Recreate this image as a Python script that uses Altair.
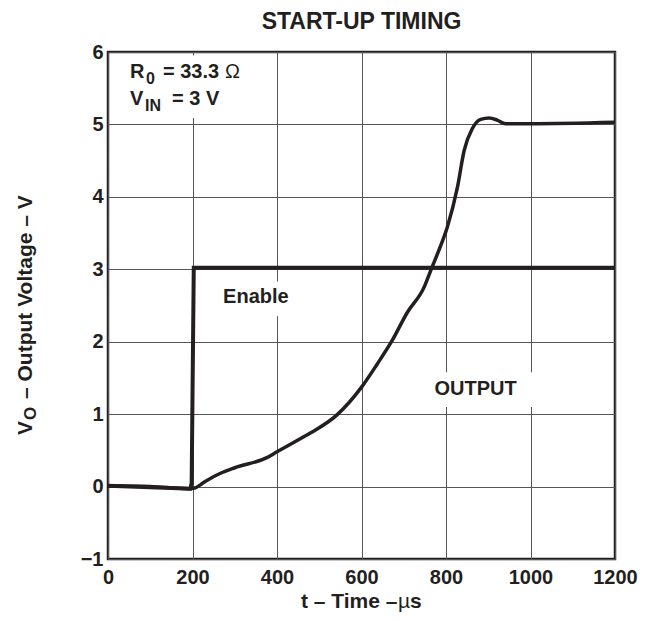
import altair as alt
import pandas as pd

# ---- data ----
out_t = [0, 100, 190, 205, 230, 265, 300, 376, 400, 455, 479, 542, 601, 637, 672,
         708, 748, 767, 783, 803, 827, 843, 862, 882, 902, 921, 941, 1000, 1200]
out_v = [0.01, 0.0, -0.03, -0.02, 0.07, 0.18, 0.26, 0.40, 0.48, 0.66, 0.74, 0.99, 1.38, 1.69, 2.01,
         2.40, 2.75, 3.03, 3.26, 3.58, 4.13, 4.64, 4.94, 5.07, 5.09, 5.06, 5.01, 5.01, 5.03]

en_t = [0, 195, 198, 203, 1200]
en_v = [0.01, -0.03, 0.05, 3.02, 3.02]

x_ticks = [0, 200, 400, 600, 800, 1000, 1200]
y_ticks = [-1, 0, 1, 2, 3, 4, 5, 6]

# label annotations (data coordinates)
label_text = ["Enable", "OUTPUT"]
label_t = [350, 870]
label_v = [2.53, 1.27]

# white boxes behind labels (data coordinates)
box_t1 = [5, 260, 750]
box_t2 = [330, 441, 1022]
box_v1 = [5.09, 2.35, 1.10]
box_v2 = [5.95, 2.83, 1.58]

# ---- chart ----
FONT = "Liberation Sans"
INK = "#231f20"
W, H = 507, 507

xs = alt.Scale(domain=[0, 1200], nice=False, zero=False)
ys = alt.Scale(domain=[-1, 6], nice=False, zero=False)

x_axis = alt.Axis(values=x_ticks, format="d", grid=True, gridColor="#555", gridWidth=1,
                  ticks=False, domain=False, labelFont=FONT, labelFontSize=20,
                  labelFontWeight="bold", labelColor=INK, labelPadding=8,
                  labelOverlap=False, labelFlush=False, title=None)
y_axis = alt.Axis(values=y_ticks, format="d", grid=True, gridColor="#555", gridWidth=1,
                  ticks=False, domain=False, labelFont=FONT, labelFontSize=20,
                  labelFontWeight="bold", labelColor=INK, labelPadding=5,
                  labelOverlap=False, labelFlush=False, title=None)

boxes = pd.DataFrame({"t1": box_t1, "t2": box_t2, "v1": box_v1, "v2": box_v2})
box_layer = alt.Chart(boxes).mark_rect(color="white").encode(
    x=alt.X("t1:Q", scale=xs, axis=x_axis),
    x2="t2:Q",
    y=alt.Y("v1:Q", scale=ys, axis=y_axis),
    y2="v2:Q",
)

out_df = pd.DataFrame({"t": out_t, "v": out_v})
out_layer = alt.Chart(out_df).mark_line(
    color=INK, strokeWidth=3.5, interpolate="monotone", strokeJoin="round"
).encode(x=alt.X("t:Q", scale=xs), y=alt.Y("v:Q", scale=ys))

en_df = pd.DataFrame({"t": en_t, "v": en_v})
en_layer = alt.Chart(en_df).mark_line(
    color=INK, strokeWidth=4, strokeJoin="miter"
).encode(x=alt.X("t:Q", scale=xs), y=alt.Y("v:Q", scale=ys))

lab_df = pd.DataFrame({"label": label_text, "t": label_t, "v": label_v})
lab_layer = alt.Chart(lab_df).mark_text(
    font=FONT, fontSize=20, fontWeight="bold", color=INK, align="center", baseline="alphabetic"
).encode(x=alt.X("t:Q", scale=xs), y=alt.Y("v:Q", scale=ys), text="label:N")

one = pd.DataFrame({"a": [0]})


def txt(text, t, v, dx=0, dy=0, size=20, weight="bold"):
    return alt.Chart(pd.DataFrame({"t": [t], "v": [v]})).mark_text(
        text=text, font=FONT, fontSize=size, fontWeight=weight, color=INK,
        align="left", baseline="alphabetic", dx=dx, dy=dy
    ).encode(x=alt.X("t:Q", scale=xs), y=alt.Y("v:Q", scale=ys))


def ptxt(text, x, y, dx=0, dy=0, size=20, weight="bold", align="left", angle=0):
    return alt.Chart(one).mark_text(
        text=text, font=FONT, fontSize=size, fontWeight=weight, color=INK,
        align=align, baseline="alphabetic", dx=dx, dy=dy, angle=angle
    ).encode(x=alt.value(x), y=alt.value(y))


ann = [
    txt("R", 52, 5.64),
    txt("0", 52, 5.64, dx=16, dy=6, size=16),
    txt("= 33.3", 52, 5.64, dx=33),
    txt("\u03a9", 52, 5.64, dx=95, weight="normal"),
    txt("V", 52, 5.27),
    txt("IN", 52, 5.27, dx=15, dy=6, size=16),
    txt("= 3 V", 52, 5.27, dx=42),
]

titles = [
    ptxt("START-UP TIMING", W / 2, -23, size=23, align="center"),
    ptxt("t \u2013 Time \u2013", 193, 556, size=21),
    ptxt("\u00b5", 193, 556, dx=97, size=21, weight="normal"),
    ptxt("s", 193, 556, dx=109, size=21),
    ptxt("V", -76, 383, size=21, angle=270),
    ptxt("O", -76, 383, dx=15, dy=4, size=17, angle=270),
    ptxt("\u2013 Output Voltage \u2013 V", -76, 383, dx=36, size=21, angle=270),
]

chart = alt.layer(
    box_layer, out_layer, en_layer, lab_layer, *ann, *titles
).properties(
    width=W, height=H,
    autosize=alt.AutoSizeParams(type="none"),
    padding={"left": 100, "top": 44, "right": 30, "bottom": 54},
    background="white",
).configure_view(
    stroke=INK, strokeWidth=2.5
)

chart.save("out.html", embed_options={"renderer": "svg", "actions": False})
